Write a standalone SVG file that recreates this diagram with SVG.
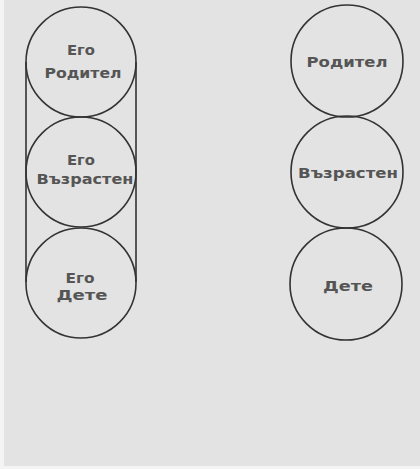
<svg xmlns="http://www.w3.org/2000/svg" width="420" height="469" viewBox="0 0 420 469">
<style>
.c{fill:none;stroke:#333;stroke-width:1.6}
.t{font-family:"DejaVu Sans","Liberation Sans",sans-serif;font-size:14px;font-weight:bold;fill:#555;text-anchor:middle}
</style>
<rect width="420" height="469" fill="#f4f4f4"/>
<rect x="4" y="0" width="416" height="466" fill="#e3e3e3"/>
<g id="connectors">
<line class="c" x1="26" y1="62" x2="26" y2="282"/>
<line class="c" x1="136" y1="62" x2="136" y2="282"/>
</g>
<g id="ego-parent"><circle class="c" cx="81" cy="62" r="55"/><text class="t" x="81" y="55" textLength="28" lengthAdjust="spacingAndGlyphs">Его</text><text class="t" x="83" y="78" textLength="77" lengthAdjust="spacingAndGlyphs">Родител</text></g>
<g id="ego-adult"><circle class="c" cx="81" cy="172" r="55"/><text class="t" x="81" y="165" textLength="28" lengthAdjust="spacingAndGlyphs">Его</text><text class="t" x="85" y="184" textLength="97" lengthAdjust="spacingAndGlyphs">Възрастен</text></g>
<g id="ego-child"><circle class="c" cx="81" cy="283" r="55"/><text class="t" x="80" y="283" textLength="29" lengthAdjust="spacingAndGlyphs">Его</text><text class="t" x="82" y="300" textLength="51" lengthAdjust="spacingAndGlyphs">Дете</text></g>
<g id="parent"><circle class="c" cx="347" cy="61" r="56"/><text class="t" x="347" y="67" textLength="81" lengthAdjust="spacingAndGlyphs">Родител</text></g>
<g id="adult"><circle class="c" cx="347" cy="172" r="56"/><text class="t" x="348" y="178" textLength="100" lengthAdjust="spacingAndGlyphs">Възрастен</text></g>
<g id="child"><circle class="c" cx="346" cy="284" r="56"/><text class="t" x="348" y="291" textLength="50" lengthAdjust="spacingAndGlyphs">Дете</text></g>
</svg>
